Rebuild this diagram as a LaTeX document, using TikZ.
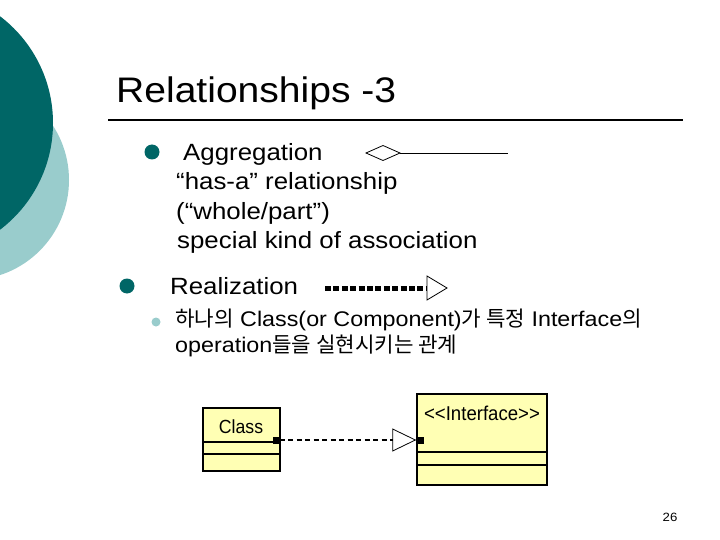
\documentclass[tikz,border=0pt]{standalone}
\usepackage{fontspec}
\setmainfont[FakeStretch=1.1]{Liberation Sans}
\newfontfamily\kr{Noto Sans CJK KR}
\newfontfamily\narrowf[FakeStretch=0.93]{Liberation Sans}
\usetikzlibrary{arrows.meta}
\definecolor{teal1}{RGB}{0,102,102}
\definecolor{teal2}{RGB}{153,204,204}
\definecolor{umly}{RGB}{255,255,180}
\tikzset{
  txt/.style={anchor=base west, inner sep=0pt, font=\fontsize{23.5}{23.5}\selectfont},
  kor/.style={anchor=base west, inner sep=0pt, font=\fontsize{21.2}{21.2}\selectfont},
  umlbox/.style={draw=black, line width=1.6pt, fill=umly},
  port/.style={fill=black, minimum size=7pt, inner sep=0pt},
  conn/.style={line width=1.5pt, dash pattern=on 5pt off 3.5pt,
    -{Triangle[open, length=24pt, width=23pt, line width=0.8pt]}},
}
\begin{document}
\begin{tikzpicture}[x=1pt, y=-1pt]
\useasboundingbox (0,0) rectangle (720,540);
\clip (0,0) rectangle (720,540);
\fill[white] (0,0) rectangle (720,540);
% decorative circles
\fill[teal2] (-31,180) circle (100);
\fill[teal1] (-81,123) circle (134);
% title
\node[anchor=base west, inner sep=0pt, font=\fontsize{35.5}{35.5}\selectfont] (title) at (116,103) {Relationships -3};
\draw[line width=2pt] (108,120) -- (683,120);
% aggregation
\fill[teal1] (152,152) circle (7.5);
\node[txt] (agg) at (183,161) {Aggregation};
\node[txt] (l1) at (176,190) {“has-a” relationship};
\node[txt] (l2) at (176,219) {(“whole/part”)};
\node[txt] (l3) at (177,248) {special kind of association};
\draw[line width=0.8pt] (366,153) -- (383,145.5) -- (400,153) -- (383,160.5) -- cycle;
\draw[line width=0.8pt] (400,153) -- (508,153);
% realization
\fill[teal1] (127,286) circle (7.5);
\node[txt] (real) at (170,294) {Realization};
\draw[line width=5pt, dash pattern=on 6pt off 2.4pt] (325,288) -- (427,288);
\draw[line width=0.8pt] (427,276) -- (447,288) -- (427,300) -- cycle;
\fill[teal2] (156,322) circle (4.5);
\node[kor] (k1) at (175,326) {{\kr 하나의} Class(or Component){\kr 가 특정} Interface{\kr 의}};
\node[kor] (k2) at (175,352) {operation{\kr 들을 실현시키는 관계}};
% UML diagram
\draw[umlbox] (203,408) rectangle (280,471);
\draw[line width=1.6pt] (203,442) -- (280,442);
\draw[line width=1.6pt] (203,454) -- (280,454);
\node[font=\narrowf\fontsize{19}{19}\selectfont, inner sep=0pt] (cls) at (241,427) {Class};
\draw[umlbox] (417,394) rectangle (547,485);
\draw[line width=1.6pt] (417,452) -- (547,452);
\draw[line width=1.6pt] (417,465) -- (547,465);
\node[font=\narrowf\fontsize{20}{20}\selectfont, inner sep=0pt] (ifc) at (482,413) {<<Interface>>};
\node[port] (p1) at (276,440) {};
\node[port] (p2) at (420,440) {};
\draw[conn] (p1.east) -- (p2.west);
% page number
\node[font=\fontsize{12}{12}\selectfont, inner sep=0pt] (pg) at (670,517) {26};
\end{tikzpicture}
\end{document}
